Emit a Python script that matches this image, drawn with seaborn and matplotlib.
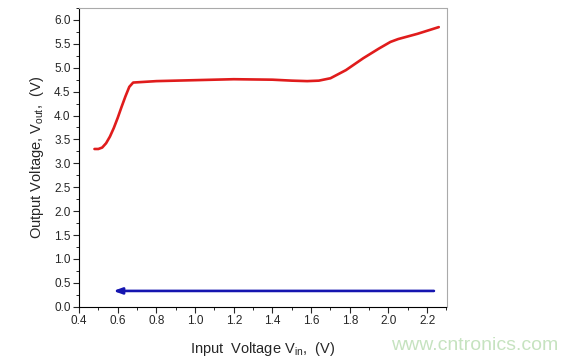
import pandas as pd
import matplotlib
matplotlib.use("Agg")
import matplotlib.pyplot as plt
from matplotlib.ticker import MultipleLocator
import seaborn as sns

# Red curve: Vout vs Vin
vin = [0.48, 0.50, 0.52, 0.54, 0.56, 0.58, 0.60, 0.62, 0.64, 0.66, 0.68, 0.72,
       0.80, 1.00, 1.20, 1.40, 1.50, 1.58, 1.64, 1.70, 1.78, 1.87, 1.95, 2.01,
       2.05, 2.15, 2.26]
vout = [3.30, 3.30, 3.33, 3.42, 3.56, 3.74, 3.95, 4.18, 4.40, 4.60, 4.69, 4.70,
        4.72, 4.74, 4.76, 4.75, 4.73, 4.72, 4.73, 4.78, 4.95, 5.20, 5.40, 5.54,
        5.60, 5.71, 5.85]

# Blue arrow (sweep back), level and end points
arrow_y = 0.33
arrow_start = 2.235
arrow_end = 0.577

sns.set_style("ticks")
plt.rcParams['font.family'] = ['Liberation Sans', 'DejaVu Sans']

fig = plt.figure(figsize=(5.79, 3.62), dpi=100)
ax = fig.add_axes([79 / 579, 1 - 306.7 / 362, (446.5 - 79) / 579, (306.7 - 8) / 362])

df = pd.DataFrame({"vin": vin, "vout": vout})
sns.lineplot(data=df, x="vin", y="vout", ax=ax, color="#e01c1c", linewidth=1.9, sort=False)

ax.annotate("", xy=(arrow_end, arrow_y), xytext=(arrow_start, arrow_y),
            arrowprops=dict(arrowstyle="-|>,head_length=0.5,head_width=0.18",
                            color="#1515b0", lw=1.9, shrinkA=0, shrinkB=0))

ax.set_xlim(0.4, 2.3)
ax.set_ylim(0, 6.25)
ax.xaxis.set_major_locator(MultipleLocator(0.2))
ax.xaxis.set_minor_locator(MultipleLocator(0.1))
ax.yaxis.set_major_locator(MultipleLocator(0.5))
ax.yaxis.set_minor_locator(MultipleLocator(0.25))
ax.set_xticklabels([f"{t:.1f}" for t in ax.get_xticks()])
ax.set_yticklabels([f"{t:.1f}" for t in ax.get_yticks()])
ax.tick_params(which="major", length=4, width=0.8, labelsize=8.5, direction="out", pad=2)
ax.tick_params(which="minor", length=2.5, width=0.7, direction="out")

for s in ["top", "right"]:
    ax.spines[s].set_visible(True)
    ax.spines[s].set_color("#aaaaaa")
    ax.spines[s].set_linewidth(0.8)
for s in ["left", "bottom"]:
    ax.spines[s].set_color("black")
    ax.spines[s].set_linewidth(0.8)

ax.set_xlabel("Input  Voltage V$_{\\mathregular{in}}$,  (V)", fontsize=10.5, labelpad=9)
ax.set_ylabel("Output Voltage, V$_{\\mathregular{out}}$,  (V)", fontsize=10.5, labelpad=6)

fig.text(0.82, 0.045, "www.cntronics.com", color="#c6e3c0", fontsize=14,
         ha="center", va="center")

fig.savefig("out.png", dpi=100)
